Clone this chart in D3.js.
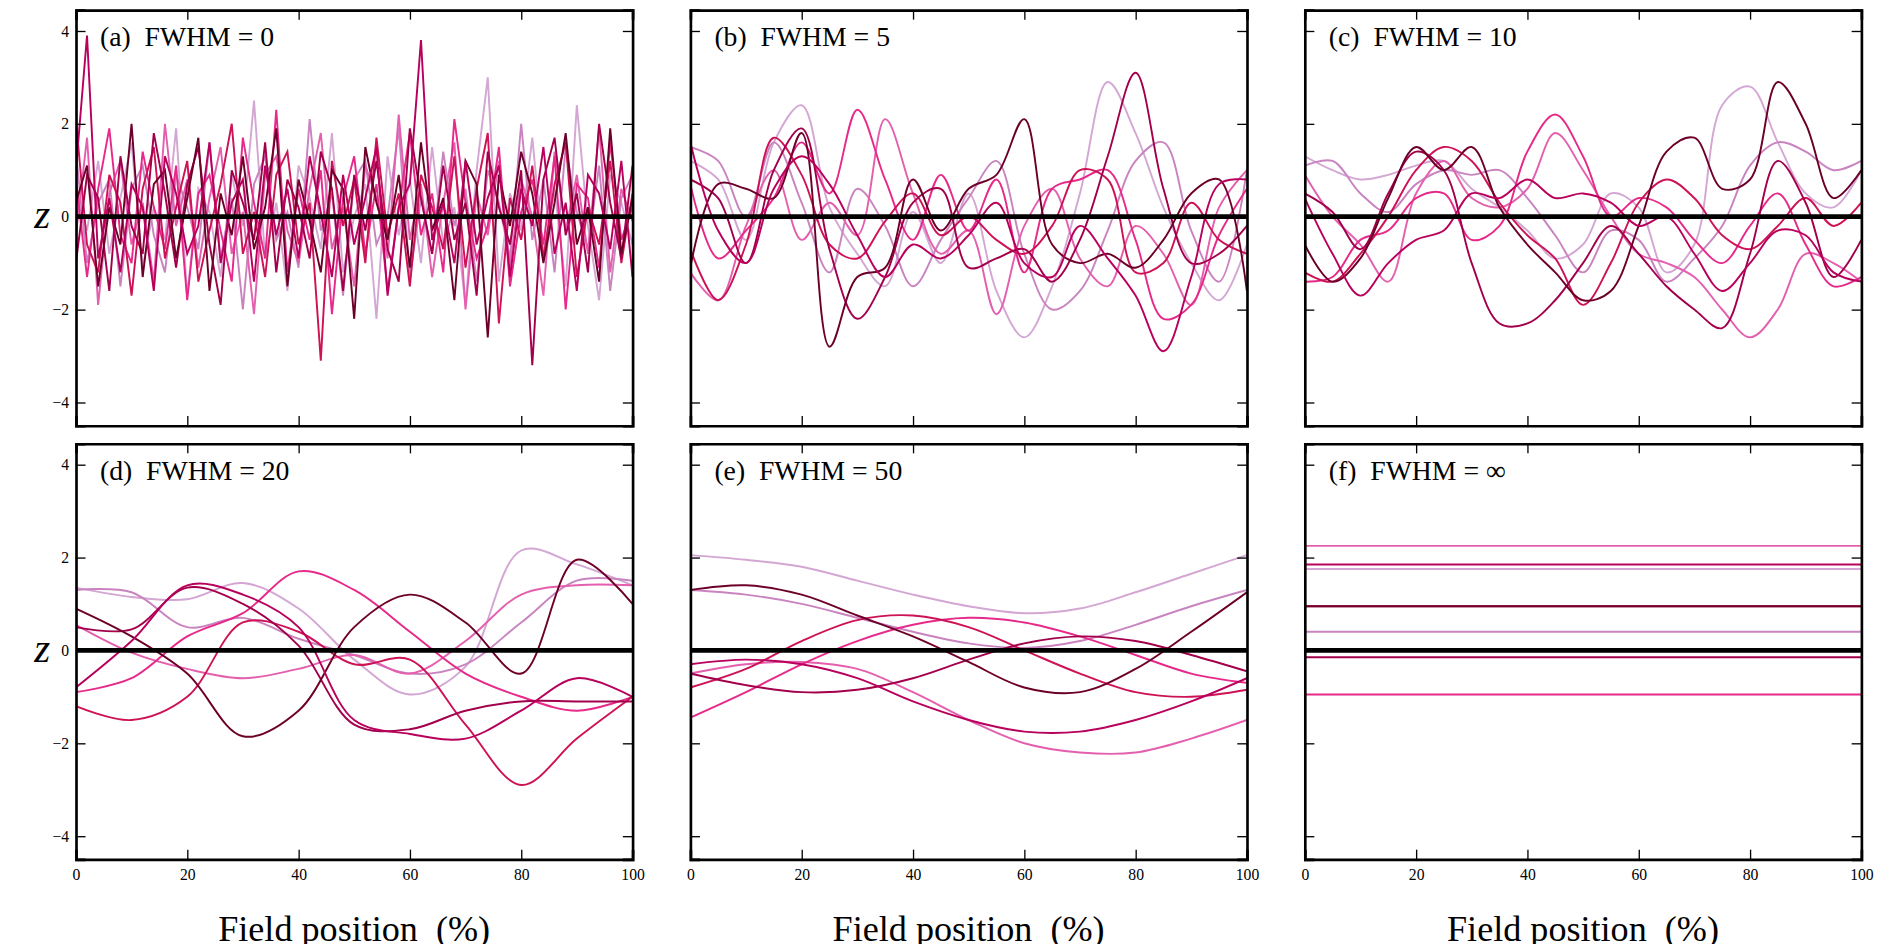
<!DOCTYPE html>
<html><head><meta charset="utf-8">
<script src="https://cdn.jsdelivr.net/npm/d3@7"></script>
<style>body{margin:0;background:#fff}svg text{font-family:"Liberation Serif",serif;white-space:pre}</style>
</head><body><svg id="c" width="1889" height="944" viewBox="0 0 1568 783"></svg>
<script>
var colors = ['#d4a6d4','#c984c0','#e45fae','#e7298a','#ce1256','#a3004c','#6d0029','#b8005c'];
var titles = ['(a)  FWHM = 0','(b)  FWHM = 5','(c)  FWHM = 10','(d)  FWHM = 20','(e)  FWHM = 50','(f)  FWHM = \u221e'];
var xTicks = [0,20,40,60,80,100];
var yTicks = [-4,-2,0,2,4];

// panel (a): 51 samples per series, x = 0..100 step 2
var dataA = [
 [0.5,-0.3,1.2,-0.8,0.4,1.6,-1.1,0.2,-0.5,1.9,-1.7,0.6,0.1,-1.3,0.9,-0.2,2.5,-0.9,0.3,-1.6,1.1,0.4,-0.7,1.8,-1.2,0.0,0.7,-2.2,1.3,-0.4,0.8,-1.0,1.5,-0.6,0.2,-1.9,1.0,3.0,-1.4,0.5,-0.3,1.7,-0.8,0.6,-1.5,2.4,-0.2,-1.8,0.9,0.3,-0.6],
 [1.4,-1.0,0.3,0.8,-1.5,0.6,1.1,-0.4,-1.2,0.9,0.2,-0.7,1.6,-0.9,0.4,-2.0,0.7,1.3,-0.5,0.1,-1.1,2.1,-0.3,0.5,-1.7,0.8,1.2,-0.6,0.0,1.9,-1.3,0.4,-0.8,1.4,-0.2,0.6,-1.4,1.0,0.3,-0.9,2.0,-0.5,0.8,-1.2,1.5,0.1,-0.7,1.1,-1.6,0.4,0.9],
 [-0.4,1.7,-1.9,0.5,1.2,-0.6,0.3,-1.4,2.0,-0.2,0.8,-1.1,0.4,1.5,-0.8,0.1,-2.1,0.9,1.3,-0.3,-1.0,0.6,1.8,-0.7,0.2,-1.5,1.1,0.4,-0.9,2.2,-0.5,0.7,-1.3,0.3,1.6,-2.0,0.5,-0.4,1.2,-1.1,0.8,0.0,-1.7,1.4,-0.3,0.9,-0.8,1.9,-1.2,0.6,-0.1],
 [0.8,-1.3,0.6,1.9,-0.4,-1.0,1.4,0.2,-0.7,1.1,-1.8,0.5,0.9,-0.3,-1.4,1.7,0.3,-0.9,2.3,-1.2,0.6,-0.5,1.0,-2.1,0.4,1.3,-0.8,0.7,-1.6,0.2,1.8,-0.4,0.5,-1.2,2.1,0.3,-0.9,-0.2,1.5,-1.5,0.1,0.8,-0.6,1.3,-2.0,0.7,0.4,-1.1,1.6,-0.5,0.2],
 [2.1,-0.6,-1.2,0.9,0.3,-1.7,0.6,1.5,-0.9,0.2,1.2,-1.4,-0.3,0.7,2.0,-0.8,0.1,-1.3,0.9,1.4,-0.6,0.3,-3.1,1.2,-0.2,0.8,-1.0,1.7,-0.4,0.5,-1.5,0.9,0.2,-0.7,1.3,-1.1,0.6,1.8,-2.3,0.4,-0.5,1.1,-0.9,0.7,1.6,-1.3,0.2,-0.6,1.2,-1.0,0.5],
 [-1.0,0.9,0.4,-1.6,1.3,-0.2,-0.8,1.8,0.5,-1.1,0.7,1.5,-0.6,-1.9,1.0,0.3,-0.5,1.6,-1.2,0.8,0.2,-0.9,1.4,0.6,-1.6,0.9,-0.3,1.2,-0.7,-1.4,1.9,0.4,-0.8,1.1,-0.5,0.3,-1.7,1.4,0.2,-0.6,1.0,-3.2,0.8,1.7,-0.4,0.5,-1.2,2.0,0.3,-0.9,1.1],
 [0.3,1.1,-1.5,0.2,-0.6,2.0,-1.3,0.7,1.0,-0.9,0.4,1.7,-1.6,0.5,-0.4,1.3,-0.7,0.2,1.9,-1.5,0.8,-0.1,-1.2,1.0,0.6,-2.2,1.5,0.3,-0.5,0.9,-1.1,1.6,-0.3,0.4,-1.8,1.2,0.7,-2.6,0.9,-0.2,1.4,0.5,-1.0,0.3,1.8,-0.6,0.2,-1.4,1.9,-0.8,0.4],
 [1.0,3.9,-0.9,0.4,-1.2,0.7,0.2,-1.6,1.3,0.5,-0.8,-0.2,1.6,-1.0,0.3,0.8,-1.4,1.1,-0.4,0.6,-0.9,1.3,0.1,-1.3,0.9,-0.6,0.4,1.5,-1.7,0.2,0.7,3.8,-0.5,0.3,-1.0,1.2,-0.6,0.4,1.1,-1.3,0.6,-0.2,1.5,-0.8,0.3,-1.6,0.9,0.5,-0.7,1.2,-1.3]
];
// panels (b),(c): 21 samples, x step 5
var dataB = [
 [1.2,0.8,-0.5,1.6,2.4,0.2,-0.8,-1.5,0.1,-1.0,0.5,-1.6,-2.6,-1.5,0.5,2.9,1.8,0.2,-1.0,-1.8,-0.6],
 [1.5,1.2,0.0,1.6,0.3,-1.2,0.6,-0.2,-1.5,-0.5,0.4,1.2,-0.8,-2.0,-1.6,-0.3,1.2,1.6,-0.3,-1.4,1.0],
 [-1.2,-1.8,-0.2,1.0,-0.5,0.3,-0.4,2.1,0.5,-0.8,-0.3,-2.1,-0.2,0.6,-0.9,-1.5,-0.2,-0.8,-1.9,0.2,1.0],
 [0.7,-0.9,-0.3,0.4,1.6,0.5,2.3,0.8,-0.5,0.9,-0.3,0.8,-1.2,0.6,0.8,1.0,-0.5,-2.2,-1.9,-0.4,0.6],
 [-0.7,-1.8,-0.6,1.7,0.9,-0.6,-0.9,-0.1,0.5,-0.4,0.0,-0.5,-0.8,-0.2,1.0,0.8,-1.2,-1.0,0.3,-0.5,-0.8],
 [0.8,0.4,-1.0,1.0,1.9,-0.7,-2.2,-1.3,0.3,0.6,-1.1,-0.9,-0.7,-1.4,-0.5,1.3,3.1,0.6,-1.0,-0.8,-0.2],
 [-1.1,0.7,0.6,0.4,1.8,-2.8,-1.3,-1.1,0.8,-0.3,0.6,0.9,2.1,-0.6,-1.0,-0.8,-1.1,-0.5,0.5,0.8,-1.6],
 [1.6,-0.3,-1.0,0.6,1.3,0.7,-0.4,-1.3,-0.6,-0.9,-0.4,0.3,-1.0,-1.3,-0.2,-0.9,-1.7,-2.9,-1.3,0.7,0.8]
];
var dataC = [
 [1.3,1.0,0.8,0.9,1.1,1.2,0.6,0.2,-0.3,-0.9,-0.6,0.5,0.2,-1.2,-0.6,2.4,2.8,1.6,0.5,0.2,1.0],
 [1.1,1.2,0.5,0.1,0.7,1.0,0.9,1.0,0.4,-0.4,-1.2,-0.3,-0.5,-1.4,-0.9,-0.2,1.1,1.6,1.4,1.0,1.2],
 [0.9,0.0,-0.6,-1.4,0.5,1.2,0.4,0.2,0.6,1.8,1.0,0.0,-0.8,-1.0,-1.3,-2.0,-2.6,-2.0,-0.8,-1.0,-1.4],
 [-1.4,-1.3,-0.5,-0.3,0.4,0.5,-0.5,-0.2,1.4,2.2,1.3,0.0,0.4,0.2,-0.5,-1.0,-0.2,0.5,-0.6,-1.5,-1.3],
 [-1.2,-1.4,-0.8,0.0,1.0,1.5,1.2,0.3,-0.4,-0.9,-1.9,-1.0,0.3,0.8,0.4,-0.4,-0.7,-0.2,0.4,-0.2,0.3],
 [0.5,0.1,-0.7,0.5,1.4,1.0,-1.0,-2.3,-2.3,-1.8,-1.0,-0.2,-0.8,-1.5,-2.0,-2.4,-0.8,1.2,0.3,-1.3,-0.5],
 [-0.6,-1.4,-0.9,0.4,1.5,1.0,1.5,0.2,-0.6,-1.2,-1.8,-1.6,-0.2,1.4,1.7,0.6,0.8,2.9,2.0,0.4,1.0],
 [0.4,-0.8,-1.7,-1.0,-0.5,-0.3,0.5,0.4,0.8,0.4,0.5,0.3,-0.2,0.0,-0.8,-1.6,-1.0,-0.3,-0.4,-1.2,-1.4]
];
// panels (d),(e): 11 samples, x step 10
var dataD = [
 [1.35,1.15,1.1,1.45,0.9,-0.2,-0.95,-0.35,2.15,1.85,1.4],
 [1.3,1.25,0.5,0.7,0.25,-0.1,-0.5,-0.3,0.6,1.5,1.5],
 [0.55,-0.05,-0.4,-0.6,-0.4,-0.1,-0.5,0.2,1.2,1.4,1.4],
 [-0.9,-0.6,0.3,0.8,1.7,1.3,0.4,-0.5,-1.0,-1.3,-1.0],
 [-1.2,-1.5,-1.0,0.6,0.4,-0.3,-0.2,-1.6,-2.9,-1.9,-1.0],
 [0.5,0.45,1.35,1.0,0.1,-1.6,-1.7,-1.3,-1.1,-1.1,-1.1],
 [0.9,0.3,-0.5,-1.85,-1.3,0.5,1.2,0.6,-0.5,1.95,1.0],
 [-0.8,0.2,1.4,1.2,0.5,-1.5,-1.8,-1.9,-1.3,-0.6,-1.0]
];
var dataE = [
 [2.05,1.95,1.8,1.5,1.2,0.95,0.8,0.9,1.25,1.65,2.05],
 [1.3,1.2,1.0,0.7,0.4,0.15,0.05,0.2,0.55,0.95,1.3],
 [-0.5,-0.3,-0.25,-0.4,-0.9,-1.5,-2.0,-2.2,-2.2,-1.9,-1.5],
 [-1.45,-0.9,-0.3,0.2,0.55,0.7,0.6,0.3,-0.1,-0.5,-0.7],
 [-0.8,-0.4,0.2,0.65,0.75,0.5,0.0,-0.5,-0.9,-1.0,-0.85],
 [-0.5,-0.75,-0.9,-0.85,-0.6,-0.2,0.15,0.3,0.2,-0.1,-0.45],
 [1.3,1.4,1.2,0.75,0.3,-0.25,-0.8,-0.9,-0.4,0.4,1.25],
 [-0.3,-0.2,-0.3,-0.6,-1.1,-1.5,-1.75,-1.75,-1.5,-1.1,-0.6]
];
// panel (f): constants
var dataF = [1.75,0.4,2.25,-0.95,0.95,-0.15,0.95,1.85];

var all = [dataA,dataB,dataC,dataD,dataE,dataF];
var svg = d3.select('#c');
var lefts = [63,573,1083], tops = [8,368], pw = 462, ph = 345;

all.forEach(function(data, p){
  var col = p % 3, row = Math.floor(p / 3);
  var g = svg.append('g').attr('transform','translate('+lefts[col]+','+tops[row]+')');
  var x = d3.scaleLinear().domain([0,100]).range([0,pw]);
  var y = d3.scaleLinear().domain([-4.5,4.45]).range([ph,0]);
  g.append('clipPath').attr('id','cl'+p).append('rect').attr('width',pw).attr('height',ph);
  var lg = g.append('g').attr('clip-path','url(#cl'+p+')');
  var curve = p == 0 ? d3.curveLinear : d3.curveCatmullRom;
  data.forEach(function(s, i){
    var pts = Array.isArray(s) ? s.map(function(v, k){ return [k*100/(s.length-1), v]; }) : [[0,s],[100,s]];
    lg.append('path').datum(pts)
      .attr('d', d3.line().x(function(d){return x(d[0]);}).y(function(d){return y(d[1]);}).curve(curve))
      .attr('fill','none').attr('stroke',colors[i]).attr('stroke-width',1.6);
  });
  lg.append('line').attr('x1',0).attr('x2',pw).attr('y1',y(0)).attr('y2',y(0)).attr('stroke','#000').attr('stroke-width',4);

  var ax = [
    d3.axisBottom(x).tickValues(xTicks).tickSize(-8).tickFormat(row==1?d3.format('d'):''),
    d3.axisTop(x).tickValues(xTicks).tickSize(-8).tickFormat(''),
    d3.axisLeft(y).tickValues(yTicks).tickSize(-8).tickFormat(col==0?function(d){return d<0?'\u2212'+(-d):d;}:''),
    d3.axisRight(y).tickValues(yTicks).tickSize(-8).tickFormat('')
  ];
  var tr = ['translate(0,'+ph+')','translate(0,0)','translate(0,0)','translate('+pw+',0)'];
  ax.forEach(function(a, k){
    var ag = g.append('g').attr('transform',tr[k]).call(a);
    ag.select('.domain').attr('stroke-width',2.2);
    ag.selectAll('.tick line').attr('stroke-width',1.1);
    ag.selectAll('text').attr('font-size',13).attr('font-family','Liberation Serif');
    if(k==0) ag.selectAll('text').attr('dy','1.1em');
    if(k==2) ag.selectAll('text').attr('dx','-0.2em');
  });
  g.append('text').attr('x',20).attr('y',30).attr('font-size',23).attr('xml:space','preserve').text(titles[p]);
  if(col==0) g.append('text').attr('x',-28).attr('y',y(0)+2).attr('font-size',34).attr('font-style','italic')
     .attr('text-anchor','middle').attr('dominant-baseline','middle').text('z');
  if(row==1) g.append('text').attr('x',pw/2).attr('y',ph+68).attr('font-size',30).attr('text-anchor','middle')
     .attr('xml:space','preserve').text('Field position  (%)');
});
</script></body></html>
